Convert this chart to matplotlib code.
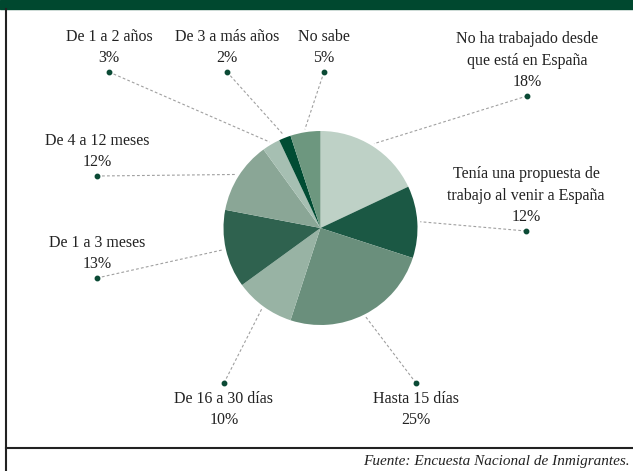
import numpy as np
import matplotlib.pyplot as plt

# Tiempo hasta encontrar el primer empleo (porcentajes)
categorias = ["No ha trabajado desde\nque está en España",
              "Tenía una propuesta de\ntrabajo al venir a España",
              "Hasta 15 días",
              "De 16 a 30 días",
              "De 1 a 3 meses",
              "De 4 a 12 meses",
              "De 1 a 2 años",
              "De 3 a más años",
              "No sabe"]
valores = [18, 12, 25, 10, 13, 12, 3, 2, 5]
colores = ["#bed1c6", "#1b5844", "#6a8f7c", "#98b3a4", "#2f624f",
           "#8aa696", "#a6bfb2", "#004c33", "#6d977f"]

# posicion del punto de cada etiqueta (pixeles de la imagen) y lado del texto
puntos = [(527, 96), (526, 231), (416, 383), (224, 383), (97, 278),
          (97, 176), (109, 72), (227, 72), (324, 72)]

W, H = 633, 471
fig = plt.figure(figsize=(W / 100, H / 100), dpi=100)
ax = fig.add_axes([0, 0, 1, 1])
ax.set_xlim(0, W)
ax.set_ylim(0, H)
ax.set_aspect("equal")
ax.axis("off")

plt.rcParams["font.family"] = ["Liberation Serif", "DejaVu Serif"]

# marco y cabecera
ax.add_patch(plt.Rectangle((0, H - 9), W, 9, color="#00482f", zorder=1))
ax.plot([6, 6], [0, H - 9], color="#222222", lw=1.5)
ax.plot([6, W], [H - 448, H - 448], color="#222222", lw=1.5)

cx, cy, r = 320.5, H - 228, 97
ax.pie(valores, colors=colores, startangle=90, counterclock=False,
       center=(cx, cy), radius=r, frame=True,
       wedgeprops=dict(linewidth=0))
ax.set_xlim(0, W)
ax.set_ylim(0, H)
ax.axis("off")

acum = np.cumsum([0] + valores)
for i, (cat, v) in enumerate(zip(categorias, valores)):
    ang = np.deg2rad((acum[i] + v / 2) / 100 * 360)
    ex = cx + r * 1.03 * np.sin(ang)
    ey = cy + r * 1.03 * np.cos(ang)
    px, py = puntos[i]
    py = H - py
    ax.plot([px, ex], [py, ey], color="#a0a0a0", lw=0.8,
            linestyle=(0, (2.5, 2)), zorder=2)
    ax.plot(px, py, "o", color="#0b4a35", ms=3.2, zorder=3)
    texto = f"{cat}\n{v}%"
    if py < 150:
        ax.text(px, py - 8, texto, ha="center", va="top", fontsize=11.5,
                color="#222222", linespacing=1.45)
    else:
        ax.text(px, py + 6, texto, ha="center", va="bottom", fontsize=11.5,
                color="#222222", linespacing=1.45)

ax.text(630, H - 462, "Fuente: Encuesta Nacional de Inmigrantes.",
        ha="right", va="center", fontsize=11, style="italic",
        color="#222222")

fig.savefig("out.png", dpi=100)
